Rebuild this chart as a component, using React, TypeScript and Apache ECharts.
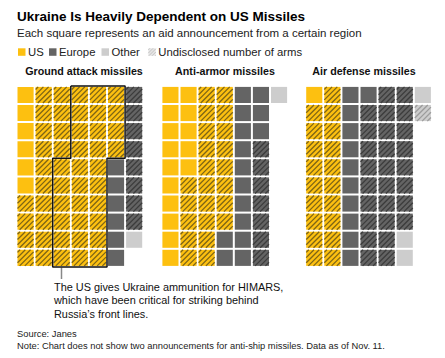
import React, { useEffect, useRef } from "react";
import * as echarts from "echarts";

const panelTitles = ["Ground attack missiles", "Anti-armor missiles", "Air defense missiles"];
// counts per panel, filled column by column (top to bottom)
const usSolid = [6, 15, 1];
const usHatched = [48, 23, 19];
const europeSolid = [6, 15, 11];
const europeHatched = [8, 7, 27];
const otherSolid = [1, 1, 3];
const otherHatched = [0, 0, 1];
const rowsPerColumn = 10;
const columnsPerPanel = 7;
// HIMARS highlighted cells (ground attack panel), index range in fill order
const himarsPanel = 0;
const himarsFirst = 24;
const himarsLast = 53;

const legendItems = ["US", "Europe", "Other", "Undisclosed number of arms"];

const FONT = "'Liberation Sans', Arial, Helvetica, sans-serif";
const COLORS = ["#FDC010", "#646464", "#CDCDCD"];
const STRIPE = ["#7d6516", "#3c3c3c", "#9c9c9c"];

const PANEL_LEFT = [16.5, 161.4, 305.2];
const TITLE_CENTER = [84, 225, 364];
const PANEL_TOP = 85.9;
const PITCH_X = 18.1;
const PITCH_Y = 18.1;
const GAP = 2;

function hatchLines(x0: number, y0: number, s: number, color: string, step: number, lw: number) {
  const out: any[] = [];
  for (let c = x0 + y0 + step / 2; c < x0 + y0 + 2 * s; c += step) {
    const xa = Math.max(x0, c - y0 - s);
    const xb = Math.min(x0 + s, c - y0);
    if (xb - xa < 0.3) continue;
    out.push({
      type: "line",
      shape: { x1: xa, y1: c - xa, x2: xb, y2: c - xb },
      style: { stroke: color, lineWidth: lw },
      silent: true,
    });
  }
  return out;
}

function buildCells(p: number) {
  const groups = [
    [0, 0, usSolid[p]],
    [0, 1, usHatched[p]],
    [1, 0, europeSolid[p]],
    [1, 1, europeHatched[p]],
    [2, 0, otherSolid[p]],
    [2, 1, otherHatched[p]],
  ];
  const cells: number[][] = [];
  let idx = 0;
  for (const [region, hatched, n] of groups) {
    for (let k = 0; k < n; k++) {
      const col = Math.floor(idx / rowsPerColumn);
      const row = idx % rowsPerColumn;
      cells.push([col, row, region, hatched]);
      idx++;
    }
  }
  return cells;
}

function outlinePoints() {
  const c0 = Math.floor(himarsFirst / rowsPerColumn);
  const r0 = himarsFirst % rowsPerColumn;
  const c1 = Math.floor(himarsLast / rowsPerColumn);
  const r1 = himarsLast % rowsPerColumn;
  return [
    [c0 + 1, 0],
    [c1 + 1, 0],
    [c1 + 1, r1 + 1],
    [c1, r1 + 1],
    [c1, rowsPerColumn],
    [c0, rowsPerColumn],
    [c0, r0],
    [c0 + 1, r0],
    [c0 + 1, 0],
  ];
}

export default function App() {
  const ref = useRef<HTMLDivElement>(null);
  useEffect(() => {
    if (!ref.current) return;
    const chart = echarts.init(ref.current, null, { renderer: "svg" });

    const grids: any[] = [];
    const xAxes: any[] = [];
    const yAxes: any[] = [];
    const series: any[] = [];
    panelTitles.forEach((_, p) => {
      grids.push({
        left: PANEL_LEFT[p],
        top: PANEL_TOP,
        width: PITCH_X * columnsPerPanel,
        height: PITCH_Y * rowsPerColumn,
      });
      xAxes.push({ type: "value", gridIndex: p, min: 0, max: columnsPerPanel, show: false });
      yAxes.push({ type: "value", gridIndex: p, min: 0, max: rowsPerColumn, inverse: true, show: false });
      series.push({
        type: "custom",
        xAxisIndex: p,
        yAxisIndex: p,
        data: buildCells(p),
        renderItem: (params: any, api: any) => {
          const col = api.value(0);
          const row = api.value(1);
          const region = api.value(2);
          const hatched = api.value(3);
          const pt = api.coord([col, row]);
          const sz = api.size([1, 1]);
          const s = sz[0] - GAP;
          const x0 = pt[0] + GAP / 2;
          const y0 = pt[1] + GAP / 2;
          const children: any[] = [
            { type: "rect", shape: { x: x0, y: y0, width: s, height: s }, style: { fill: COLORS[region] } },
          ];
          if (hatched) children.push(...hatchLines(x0, y0, s, STRIPE[region], 5.2, 1.3));
          return { type: "group", children };
        },
      });
    });
    series.push({
      type: "line",
      xAxisIndex: himarsPanel,
      yAxisIndex: himarsPanel,
      data: outlinePoints(),
      symbol: "none",
      clip: false,
      lineStyle: { color: "#111", width: 1.5 },
      z: 5,
    });

    const graphic: any[] = [
      {
        type: "text",
        x: 17,
        y: 16,
        style: {
          text: "Ukraine Is Heavily Dependent on US Missiles",
          font: `bold 13.5px ${FONT}`,
          fill: "#000",
          textVerticalAlign: "middle",
        },
      },
      {
        type: "text",
        x: 17,
        y: 32.5,
        style: {
          text: "Each square represents an aid announcement from a certain region",
          font: `11.5px ${FONT}`,
          fill: "#222",
          textVerticalAlign: "middle",
        },
      },
    ];
    const legendX = [18, 49, 101.5, 148.3];
    legendItems.forEach((name, i) => {
      const x = legendX[i];
      const y = 48.3;
      const s = 7.5;
      graphic.push({ type: "rect", shape: { x, y, width: s, height: s }, style: { fill: i < 3 ? COLORS[i] : "#e6e6e6" } });
      if (i === 3) hatchLines(x, y, s, "#c4c4c4", 3.2, 1).forEach((l) => graphic.push(l));
      graphic.push({
        type: "text",
        x: x + s + 2.5,
        y: 52,
        style: { text: name, font: `11.3px ${FONT}`, fill: "#222", textVerticalAlign: "middle" },
      });
    });
    panelTitles.forEach((t, p) => {
      graphic.push({
        type: "text",
        x: TITLE_CENTER[p],
        y: 71,
        style: { text: t, font: `bold 10.7px ${FONT}`, fill: "#111", textAlign: "center", textVerticalAlign: "middle" },
      });
    });
    graphic.push({
      type: "line",
      shape: { x1: 61.5, y1: 267.5, x2: 61.5, y2: 279 },
      style: { stroke: "#888", lineWidth: 1.5 },
    });
    graphic.push({
      type: "text",
      x: 54,
      y: 280,
      style: {
        text: "The US gives Ukraine ammunition for HIMARS,\nwhich have been critical for striking behind\nRussia’s front lines.",
        font: `10.9px ${FONT}`,
        lineHeight: 13.5,
        fill: "#111",
      },
    });
    graphic.push({
      type: "text",
      x: 17,
      y: 328,
      style: {
        text: "Source: Janes\nNote: Chart does not show two announcements for anti-ship missiles. Data as of Nov. 11.",
        font: `9.35px ${FONT}`,
        lineHeight: 12,
        fill: "#222",
      },
    });

    chart.setOption({
      animation: false,
      backgroundColor: "#fff",
      grid: grids,
      xAxis: xAxes,
      yAxis: yAxes,
      series,
      graphic,
    });
    return () => chart.dispose();
  }, []);
  return <div ref={ref} style={{ position: "fixed", left: 0, top: 0, width: 445, height: 358 }} />;
}
